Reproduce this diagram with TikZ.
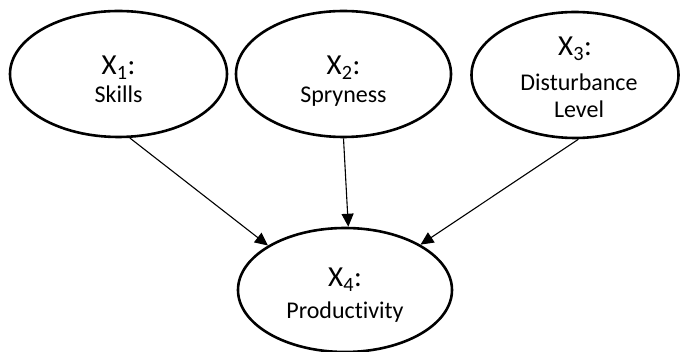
\documentclass[tikz,border=0pt]{standalone}
\usepackage{fontspec}
\setmainfont[Ligatures={NoCommon,NoRare}]{Carlito}
\usetikzlibrary{shapes.geometric,arrows.meta}
\tikzset{
  var/.style={draw=black, line width=2.6pt, ellipse, inner sep=0pt},
  big/.style={anchor=base, inner sep=0pt, font=\fontsize{29}{32}\selectfont},
  small/.style={anchor=base, inner sep=0pt, font=\fontsize{24}{28}\selectfont},
  edge/.style={line width=1.1pt, -{Triangle[length=13pt,width=12pt]}}
}
\begin{document}
\begin{tikzpicture}[x=1pt,y=-1pt]
\useasboundingbox (0,0) rectangle (681,352);
\node[var, minimum width=217pt, minimum height=126pt] (x1) at (118.5,74) {};
\node[var, minimum width=215pt, minimum height=126pt] (x2) at (343.5,74) {};
\node[var, minimum width=207pt, minimum height=126pt] (x3) at (575,75) {};
\node[var, minimum width=214pt, minimum height=124pt] (x4) at (345,290) {};
\node[big] (t1) at (118.5,75) {X\textsubscript{1}:};
\node[small] (s1) at (118.5,103) {Skills};
\node[big] (t2) at (343.5,75) {X\textsubscript{2}:};
\node[small] (s2) at (343.5,103) {Spryness};
\node[big] (t3) at (575,56) {X\textsubscript{3}:};
\node[small] (s3) at (579,91) {Disturbance};
\node[small] (s3b) at (579,117.5) {Level};
\node[big] (t4) at (345,287) {X\textsubscript{4}:};
\node[small] (s4) at (345,319) {Productivity};
\draw[edge] (x1.-80) -- (x4.150);
\draw[edge] (x2.south) -- (x4.87);
\draw[edge] (x3.-87) -- (x4.31);
\end{tikzpicture}
\end{document}
